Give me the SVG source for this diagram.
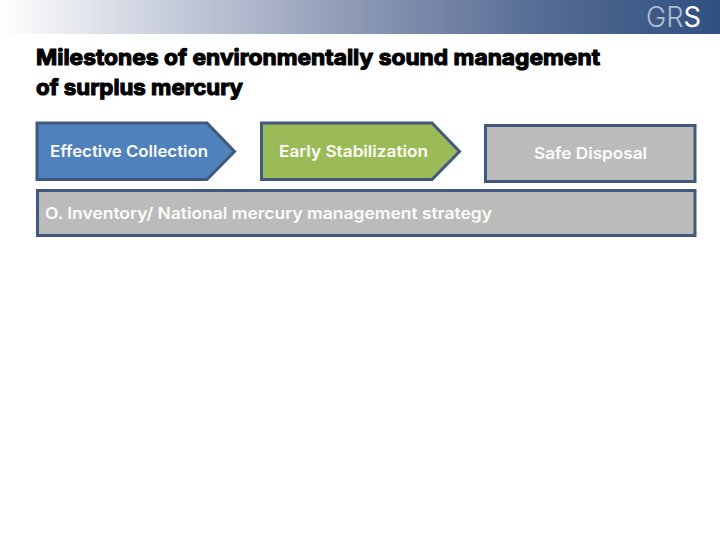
<svg xmlns="http://www.w3.org/2000/svg" width="720" height="540" viewBox="0 0 720 540">
<style>
.t{font-family:"Inter","Liberation Sans",sans-serif}
.title{font-size:22px;font-weight:700;fill:#000;stroke:#000;stroke-width:1.1px}
.lab{font-size:16px;font-weight:600;fill:#fbfcf8}
.box{stroke:#41597c;stroke-width:3px}
</style>
<defs>
<linearGradient id="hdr" x1="0" y1="0" x2="1" y2="0">
<stop offset="0" stop-color="#ffffff"/>
<stop offset=".25" stop-color="#c4cad9"/>
<stop offset=".5" stop-color="#8c98b4"/>
<stop offset=".75" stop-color="#566c94"/>
<stop offset="1" stop-color="#2f5080"/>
</linearGradient>
</defs>
<rect width="720" height="540" fill="#fff"/>
<rect id="header" width="720" height="34" fill="url(#hdr)"/>
<text id="logo" class="t" x="646" y="27" font-size="28" font-weight="300" textLength="55" lengthAdjust="spacingAndGlyphs"><tspan fill="#b4bccf">GR</tspan><tspan fill="#ffffff" font-weight="400">S</tspan></text>
<g id="title">
<text class="t title" x="36" y="65" textLength="564" lengthAdjust="spacingAndGlyphs">Milestones of environmentally sound management</text>
<text class="t title" x="36" y="95" textLength="207" lengthAdjust="spacingAndGlyphs">of surplus mercury</text>
</g>
<g id="node-effective-collection">
<path class="box" fill="#4f81bd" d="M37 123H207L234.500 151.500L207 179.500H37Z"/>
<text class="t lab" x="50" y="157" textLength="158" lengthAdjust="spacingAndGlyphs">Effective Collection</text>
</g>
<g id="node-early-stabilization">
<path class="box" fill="#9bbb59" d="M261.500 123H432L459.500 151.500L432 179.500H261.500Z"/>
<text class="t lab" x="279" y="157" textLength="149" lengthAdjust="spacingAndGlyphs">Early Stabilization</text>
</g>
<g id="node-safe-disposal">
<rect class="box" fill="#bbbbbb" x="485.500" y="125.500" width="209.500" height="56"/>
<text class="t lab" x="534" y="159" textLength="113" lengthAdjust="spacingAndGlyphs">Safe Disposal</text>
</g>
<g id="node-inventory">
<rect class="box" fill="#bbbbbb" x="37.500" y="190.500" width="657.500" height="45"/>
<text class="t lab" x="45" y="219" textLength="447" lengthAdjust="spacingAndGlyphs">O. Inventory/ National mercury management strategy</text>
</g>
<g id="connectors"/>
</svg>
